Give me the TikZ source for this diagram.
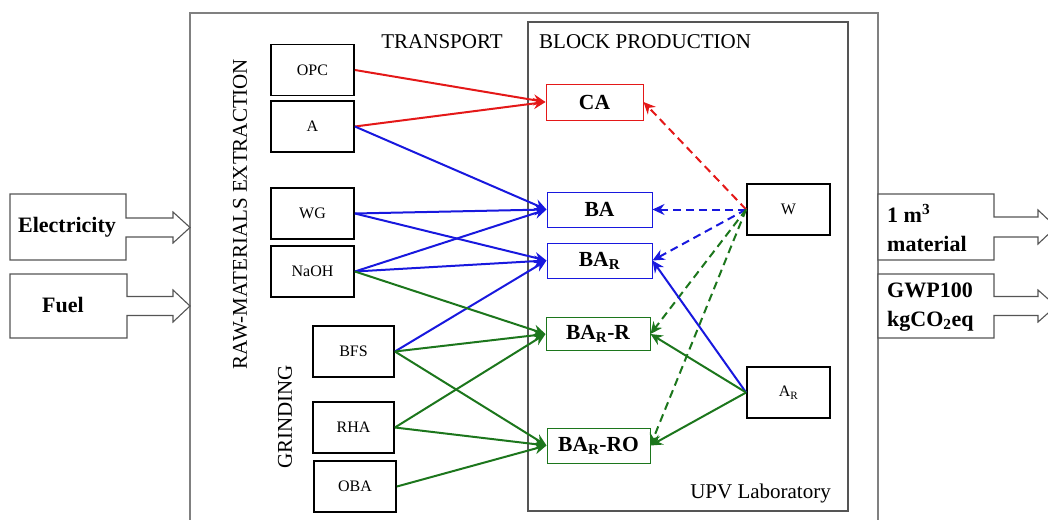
\documentclass[tikz,border=0pt]{standalone}
\usepackage{fontspec}
\setmainfont{Liberation Serif}
\usetikzlibrary{arrows.meta}
\definecolor{cred}{RGB}{228,24,24}
\definecolor{cblue}{RGB}{24,24,222}
\definecolor{cgreen}{RGB}{28,118,28}
\definecolor{frame}{RGB}{85,85,85}
\begin{document}
\begin{tikzpicture}[x=1pt,y=-1pt,
  src/.style={draw=black,line width=1.8pt,minimum width=83pt,minimum height=51pt,inner sep=0pt,font=\fontsize{16}{18}\selectfont},
  prod/.style={draw,line width=1pt,minimum height=35pt,inner sep=0pt,font=\bfseries\fontsize{21.5}{24}\selectfont},
  lbl/.style={font=\fontsize{21}{24}\selectfont,inner sep=0pt},
  io/.style={font=\bfseries\fontsize{22}{29}\selectfont,inner sep=0pt,align=left},
  blockarrow/.style={draw=frame,line width=1.1pt,fill=white},
  arr/.style={line width=2pt,-{Stealth[length=12pt,width=11pt,inset=4pt]}},
  darr/.style={arr,dash pattern=on 8pt off 5pt},
]
\useasboundingbox (0,0) rectangle (1048,519);
% frames
\draw[draw=gray,line width=1.3pt] (190,13) rectangle (878,540);
\draw[draw=frame,line width=1.3pt] (528,22) rectangle (848,511);
% input block arrows
\draw[blockarrow] (10,194) -- (126,194) -- (126,218) -- (173,218) -- (173,212) -- (190,227.5) -- (173,243) -- (173,237) -- (126,237) -- (126,260) -- (10,260) -- cycle;
\draw[blockarrow] (10,274) -- (127,274) -- (127,296.5) -- (173,296.5) -- (173,290) -- (190,306) -- (173,322) -- (173,315.5) -- (127,315.5) -- (127,338) -- (10,338) -- cycle;
\node[io] (elec) at (67,227.5) {Electricity};
\node[io] (fuel) at (63,305) {Fuel};
% output block arrows
\draw[blockarrow] (878,194) -- (994,194) -- (994,217) -- (1038,217) -- (1038,210) -- (1056,227) -- (1038,244) -- (1038,237) -- (994,237) -- (994,260) -- (878,260) -- cycle;
\draw[blockarrow] (878,274) -- (994,274) -- (994,296.5) -- (1038,296.5) -- (1038,290) -- (1056,306) -- (1038,322) -- (1038,315.5) -- (994,315.5) -- (994,338) -- (878,338) -- cycle;
\node[io,anchor=west] (mat) at (887,228) {1 m\textsuperscript{3}\\material};
\node[io,anchor=west] (gwp) at (887,307) {GWP100\\kgCO\textsubscript{2}eq};
% labels
\node[lbl] (transport) at (442,42) {TRANSPORT};
\node[lbl,anchor=west] (blockprod) at (539,42) {BLOCK PRODUCTION};
\node[lbl,rotate=90] (raw) at (240,214) {RAW-MATERIALS EXTRACTION};
\node[lbl,rotate=90] (grind) at (285,417) {GRINDING};
\node[lbl,anchor=east] (upv) at (831,493) {UPV Laboratory};
% source boxes
\node[src] (opc) at (312.5,70) {OPC};
\node[src] (a) at (312.5,126.5) {A};
\node[src] (wg) at (312.5,213.5) {WG};
\node[src] (naoh) at (312.5,271.5) {NaOH};
\node[src,minimum width=81pt] (bfs) at (353.5,351.5) {BFS};
\node[src,minimum width=81pt] (rha) at (353.5,427.5) {RHA};
\node[src,minimum width=82pt] (oba) at (355,486.5) {OBA};
\node[src] (w) at (788.5,209.5) {W};
\node[src] (ar) at (788.5,392.5) {A\textsubscript{R}};
% product boxes
\node[prod,draw=cred,minimum width=97pt,minimum height=36pt] (ca) at (594.5,102) {CA};
\node[prod,draw=cblue,minimum width=105pt] (ba) at (599.5,209.5) {BA};
\node[prod,draw=cblue,minimum width=105pt] (bar) at (599.5,260.5) {BA\textsubscript{R}};
\node[prod,draw=cgreen,minimum width=104pt,minimum height=33pt] (barr) at (598,334) {BA\textsubscript{R}-R};
\node[prod,draw=cgreen,minimum width=103pt] (barro) at (598.5,445.5) {BA\textsubscript{R}-RO};
% red
\draw[arr,cred] (opc.east) -- (ca.west);
\draw[arr,cred] (a.east) -- (ca.west);
% blue
\draw[arr,cblue] (a.east) -- (ba.west);
\draw[arr,cblue] (wg.east) -- (ba.west);
\draw[arr,cblue] (wg.east) -- (bar.west);
\draw[arr,cblue] (naoh.east) -- (ba.west);
\draw[arr,cblue] (naoh.east) -- (bar.west);
\draw[arr,cblue] (bfs.east) -- (bar.west);
% green
\draw[arr,cgreen] (naoh.east) -- (barr.west);
\draw[arr,cgreen] (bfs.east) -- (barr.west);
\draw[arr,cgreen] (bfs.east) -- (barro.west);
\draw[arr,cgreen] (rha.east) -- (barr.west);
\draw[arr,cgreen] (rha.east) -- (barro.west);
\draw[arr,cgreen] (oba.east) -- (barro.west);
% from W (dashed)
\draw[darr,cred] (w.west) -- (ca.east);
\draw[darr,cblue] (w.west) -- (ba.east);
\draw[darr,cblue] (w.west) -- (bar.east);
\draw[darr,cgreen] (w.west) -- (barr.east);
\draw[darr,cgreen] (w.west) -- (barro.east);
% from A_R
\draw[arr,cblue] (ar.west) -- (bar.east);
\draw[arr,cgreen] (ar.west) -- (barr.east);
\draw[arr,cgreen] (ar.west) -- (barro.east);
\end{tikzpicture}
\end{document}
